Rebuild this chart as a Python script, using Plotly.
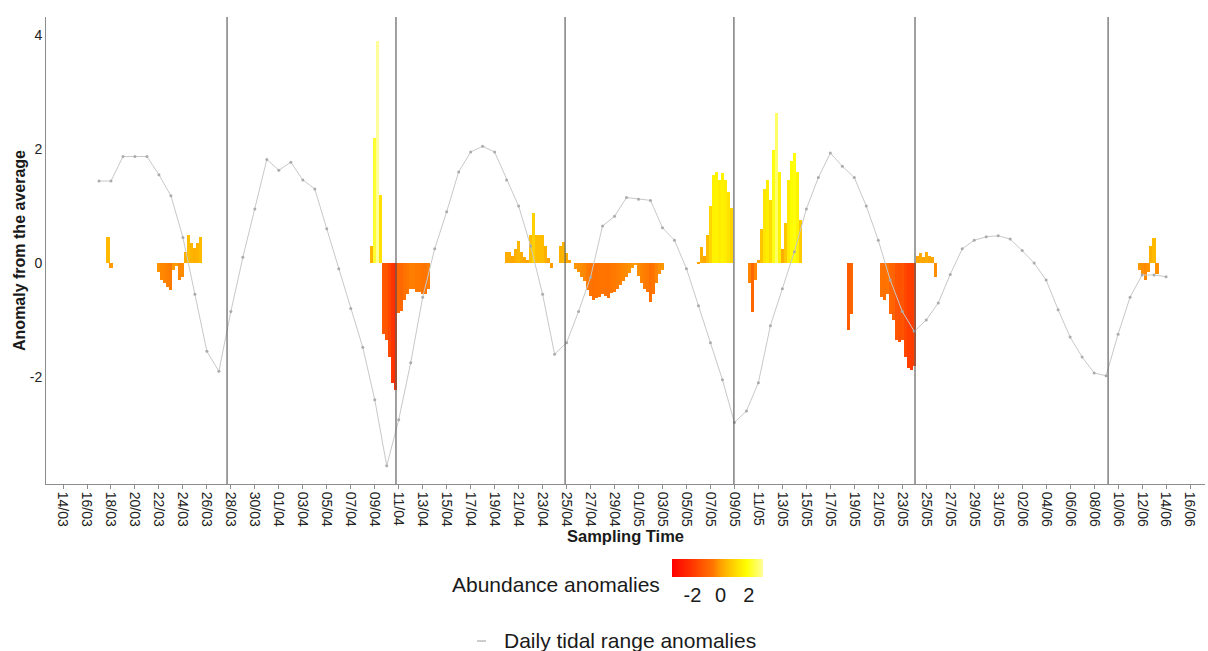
import plotly.graph_objects as go
import pandas as pd

# ---------------- data ----------------
tick_first = "2021-03-14"
tick_last = "2021-06-16"
x_range = ["2021-03-12 13:55", "2021-06-17 06:00"]
y_range = [-3.88, 4.32]

# boundaries between sampling periods (vertical lines)
sampling_breaks = ["2021-03-27 16:20", "2021-04-10 18:30", "2021-04-24 21:00",
                   "2021-05-08 23:00", "2021-05-24 01:30", "2021-06-09 04:00"]

# daily tidal range anomalies, one value per day from tidal_start
tidal_start = "2021-03-17"
tidal_values = [1.44, 1.44, 1.87, 1.87, 1.87, 1.55, 1.18, 0.45, -0.55, -1.55,
                -1.9, -0.85, 0.1, 0.95, 1.82, 1.63, 1.77, 1.46, 1.3, 0.6,
                -0.1, -0.8, -1.48, -2.4, -3.56, -2.75, -1.75, -0.6, 0.25, 0.9,
                1.6, 1.95, 2.05, 1.95, 1.46, 1.0, 0.3, -0.55, -1.6, -1.4,
                -0.85, -0.25, 0.65, 0.82, 1.15, 1.12, 1.1, 0.62, 0.4, -0.1,
                -0.75, -1.4, -2.05, -2.8, -2.6, -2.1, -1.1, -0.45, 0.2, 0.95,
                1.5, 1.93, 1.7, 1.5, 1.0, 0.4, -0.3, -0.85, -1.2, -1.0,
                -0.7, -0.2, 0.25, 0.4, 0.46, 0.48, 0.42, 0.22, 0.0, -0.3,
                -0.82, -1.3, -1.65, -1.93, -1.98, -1.25, -0.6, -0.21, -0.21, -0.24]

# abundance anomalies, 6-hourly values in several sampling bursts
abund_step_hours = 6
abund_starts = ["2021-03-17 18:00", "2021-03-22 00:00", "2021-04-08 18:00",
                "2021-04-20 00:00", "2021-04-25 18:00", "2021-05-06 00:00",
                "2021-05-10 06:00", "2021-05-11 00:00", "2021-05-18 12:00",
                "2021-05-21 06:00", "2021-05-24 06:00", "2021-06-11 18:00"]
abund_a = [0.45, -0.08]
abund_b = [-0.15, -0.3, -0.35, -0.42, -0.47, -0.12, -0.05, -0.3, -0.25,
           0.2, 0.49, 0.35, 0.26, 0.35, 0.46]
abund_c = [0.3, 2.2, 3.9, 1.2, -1.25, -1.35, -1.65, -2.1, -2.23,
           -0.88, -0.85, -0.65, -0.55, -0.45, -0.45, -0.5, -0.5, -0.55, -0.55, -0.45]
abund_d = [0.2, 0.2, 0.12, 0.25, 0.38, 0.2, 0.1, 0.05, 0.5, 0.88, 0.5,
           0.5, 0.5, 0.3, 0.08, -0.08, 0.0, 0.0, 0.3, 0.37, 0.18, 0.06]
abund_e = [-0.1, -0.15, -0.25, -0.32, -0.48, -0.58, -0.65, -0.62, -0.6, -0.55,
           -0.58, -0.62, -0.52, -0.5, -0.45, -0.38, -0.32, -0.25, -0.17, -0.08,
           -0.02, -0.22, -0.35, -0.45, -0.5, -0.68, -0.55, -0.35, -0.2, -0.12]
abund_f = [0.02, 0.28, 0.12, 0.5, 1.0, 1.55, 1.6, 1.45, 1.58, 1.45, 1.25, 0.97]
abund_g = [-0.35, -0.86, -0.3]
abund_h = [0.05, 0.6, 1.3, 1.46, 1.1, 1.98, 2.63, 1.6, 0.25, 0.7, 1.45,
           1.8, 1.93, 1.6, 0.75]
abund_i = [-1.17, -0.9]
abund_j = [-0.6, -0.65, -0.55, -0.9, -1.0, -1.35, -1.38, -1.35, -1.65,
           -1.85, -1.88, -1.8]
abund_k = [0.12, 0.18, 0.1, 0.2, 0.12, 0.1, -0.24]
abund_l = [-0.12, -0.2, -0.3, -0.15, 0.3, 0.44, -0.2]
abund_segments = [abund_a, abund_b, abund_c, abund_d, abund_e, abund_f,
                  abund_g, abund_h, abund_i, abund_j, abund_k, abund_l]

colour_limits = [-3.45, 3.0]
colour_ticks = [-2, 0, 2]

# ---------------- build ----------------
ab_x, ab_y = [], []
for start, vals in zip(abund_starts, abund_segments):
    times = pd.date_range(start, periods=len(vals), freq=f"{abund_step_hours}h")
    ab_x.extend(times)
    ab_y.extend(vals)

tidal_x = pd.date_range(tidal_start, periods=len(tidal_values), freq="D")
tick_dates = pd.date_range(tick_first, tick_last, freq="2D")
tick_text = [d.strftime("%d/%m") for d in tick_dates]

FONT = "Liberation Sans, Arial, sans-serif"
W, H = 1208, 651
L, R, T, B = 46, 3, 17, 167
PW, PH = W - L - R, H - T - B


def px(p):
    return (p - L) / PW


def py(p):
    return (H - B - p) / PH


heat = [[0.0, "#FF0000"], [0.2, "#FF3000"], [0.33, "#FF5500"], [0.45, "#FF7500"],
        [0.535, "#FFA000"], [0.62, "#FFC000"], [0.72, "#FFE000"], [0.82, "#FFFF00"],
        [1.0, "#FFFF99"]]

fig = go.Figure()
fig.add_trace(go.Bar(
    x=ab_x, y=ab_y, width=[abund_step_hours * 3600 * 1000 * 1.04] * len(ab_y),
    marker=dict(color=ab_y, colorscale=heat, cmin=colour_limits[0], cmax=colour_limits[1],
                line=dict(width=0), showscale=True,
                colorbar=dict(orientation="h", lenmode="pixels", len=91, thickness=18,
                              x=px(717.5), xanchor="center", y=py(559), yanchor="top",
                              xpad=0, ypad=0, outlinewidth=0, ticks="",
                              tickvals=colour_ticks, ticktext=[str(v) for v in colour_ticks],
                              tickfont=dict(size=20, color="#1a1a1a", family=FONT))),
    showlegend=False, hoverinfo="x+y"))

fig.add_trace(go.Scatter(
    x=tidal_x, y=tidal_values, mode="lines+markers",
    line=dict(color="#C8C8C8", width=1), marker=dict(size=3, color="#ABABAB"),
    showlegend=False))

for b in sampling_breaks:
    fig.add_shape(type="line", x0=b, x1=b, y0=0, y1=1, xref="x", yref="paper",
                  line=dict(color="#606060", width=1.2), layer="above")

# legend texts
fig.add_annotation(text="Abundance anomalies", x=px(662), y=py(584), xref="paper", yref="paper",
                   xanchor="right", yanchor="middle", showarrow=False,
                   font=dict(size=21, color="#1a1a1a", family=FONT))
fig.add_annotation(text="Daily tidal range anomalies", x=px(502), y=py(641), xref="paper",
                   yref="paper", xanchor="left", yanchor="middle", showarrow=False,
                   font=dict(size=21, color="#1a1a1a", family=FONT))
fig.add_shape(type="line", x0=px(477), x1=px(486), y0=py(641), y1=py(641), xref="paper",
              yref="paper", line=dict(color="#BDBDBD", width=1.5))

fig.update_layout(
    width=W, height=H, margin=dict(l=L, r=R, t=T, b=B, autoexpand=False),
    paper_bgcolor="white", plot_bgcolor="white", bargap=0,
    font=dict(family=FONT, color="#1a1a1a"),
    xaxis=dict(type="date", range=x_range, tickvals=tick_dates, ticktext=tick_text,
               tickangle=90, showgrid=False, zeroline=False, showline=True,
               linecolor="#8c8c8c", linewidth=1, ticks="outside", ticklen=4,
               tickcolor="#8c8c8c", tickfont=dict(size=14, color="#222", family=FONT),
               title=dict(text="<b>Sampling Time</b>", font=dict(size=16.5, family=FONT),
                          standoff=1), automargin=False),
    yaxis=dict(range=y_range, tickvals=[-2, 0, 2, 4], ticktext=["-2", "0", "2", "4"],
               showgrid=False, zeroline=False, showline=True, linecolor="#8c8c8c",
               linewidth=1, ticks="", tickfont=dict(size=14, color="#222", family=FONT),
               title=dict(text="<b>Anomaly from the average</b>",
                          font=dict(size=16, family=FONT), standoff=0), automargin=False),
)

fig.write_html("out.html")
